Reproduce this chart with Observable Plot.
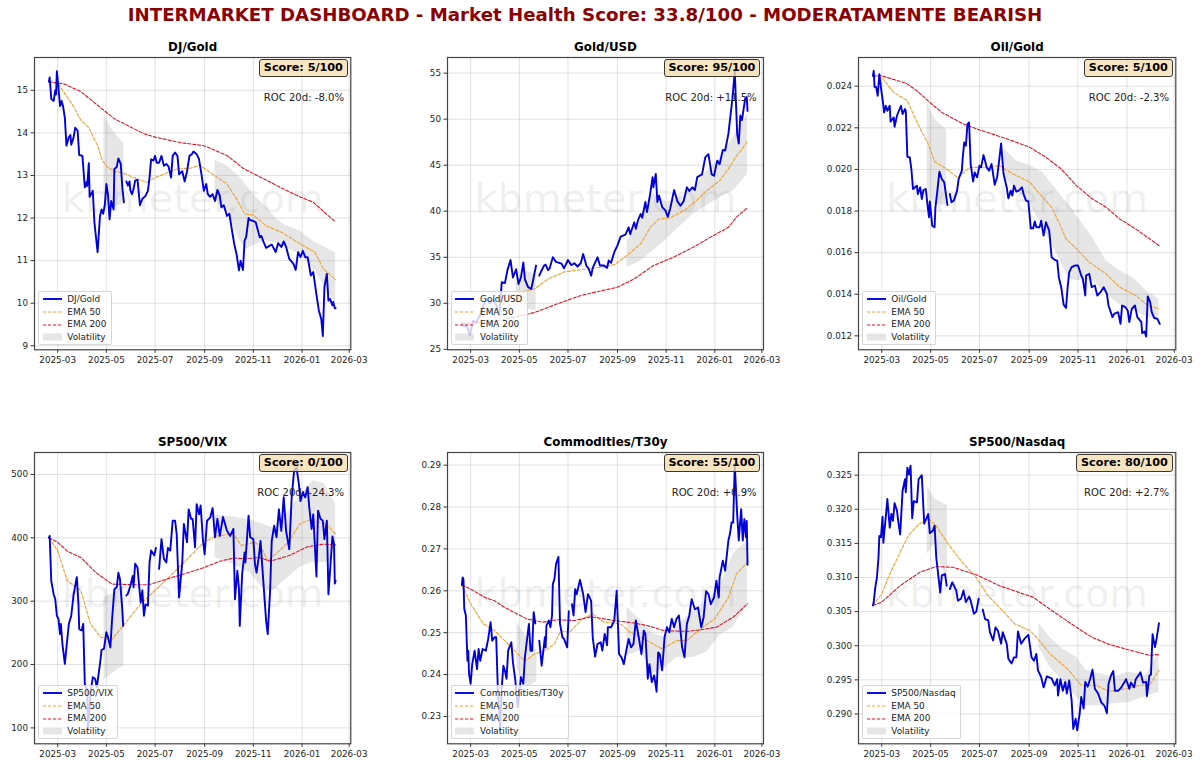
<!DOCTYPE html>
<html><head><meta charset="utf-8">
<script src="https://cdn.jsdelivr.net/npm/d3@7"></script>
<script src="https://cdn.jsdelivr.net/npm/@observablehq/plot@0.6"></script>
<style>
html,body{margin:0;background:#fff;font-family:"DejaVu Sans",sans-serif;}
#page{position:relative;width:1200px;height:768px;overflow:hidden;}
#sup{position:absolute;left:0;width:1170px;top:3px;height:24px;line-height:24px;text-align:center;font-weight:bold;font-size:18.2px;color:#8b0000;white-space:nowrap;}
.panel{position:absolute;}
.panel svg{overflow:visible;background:transparent;display:block;}
.score{position:absolute;box-sizing:border-box;height:18.4px;line-height:16.4px;padding:0 3.8px;border:1px solid #3d3529;border-radius:3px;background:rgba(245,222,179,.8);font-weight:bold;font-size:11.2px;color:#000;white-space:nowrap;}
.legend{position:absolute;box-sizing:border-box;height:54.3px;padding:1.4px 4.5px 0 3.6px;border:1px solid rgba(204,204,204,.8);border-radius:2px;background:rgba(255,255,255,.8);font-size:8.9px;color:#222;white-space:nowrap;}
.legend div{height:12.67px;line-height:12.67px;display:flex;align-items:center;}
.legend svg{margin-right:5.6px;flex:none;}
</style></head>
<body><div id="page"><div id="sup"></div></div>
<script>
const supTitle = "INTERMARKET DASHBOARD - Market Health Score: 33.8/100 - MODERATAMENTE BEARISH";
const watermark = "kbmeter.com";
const monthTicks = ["2025-03","2025-05","2025-07","2025-09","2025-11","2026-01","2026-03"];
const legendExtras = ["EMA 50","EMA 200","Volatility"];

// every series: [days after 2025-03-01, value]; NaN marks a gap in the line
const djGoldLine = [[-11,15.2],[-10,15.3],[-8,14.8],[-5,14.75],[-3,15.0],[-2,14.9],[-1,15.45],[1,15.05],[3,14.63],[5,14.75],[7,14.6],[9,14.35],[11,13.7],[14,13.9],[16,13.95],[17,13.72],[20,13.9],[22,14.12],[25,14.05],[27,13.48],[31,13.46],[34,12.72],[36,12.84],[37,12.75],[39,13.29],[40,12.5],[44,12.64],[46,11.9],[50,11.2],[53,12.05],[55,12.2],[57,12.1],[59,12.3],[61,12.8],[63,12.55],[65,11.97],[67,12.4],[70,12.2],[71,13.15],[74,13.2],[76,13.4],[79,13.27],[81,12.7],[83,12.37],[84,NaN],[86,12.86],[88,12.76],[90,12.86],[91,12.65],[93,12.56],[95,12.68],[97,12.88],[100,12.9],[103,12.3],[106,12.45],[110,12.52],[113,12.64],[115,12.95],[117,13.38],[120,13.35],[122,13.46],[124,13.3],[127,13.3],[130,13.46],[133,13.23],[136,13.27],[139,13.2],[142,12.95],[144,13.46],[147,13.54],[150,13.46],[152,13.03],[156,13.1],[159,12.86],[162,13.1],[165,13.46],[168,13.5],[170,13.56],[174,13.5],[177,13.38],[180,13.03],[183,12.64],[186,12.8],[188,12.56],[191,12.5],[194,12.56],[197,12.4],[200,12.66],[203,12.52],[205,12.25],[208,12.3],[212,12.05],[215,12.1],[218,11.74],[221,11.4],[224,11.15],[227,10.77],[229,11.0],[232,10.78],[234,11.47],[236,11.55],[239,12.0],[241,11.95],[245,11.93],[248,11.9],[253,11.55],[255,11.58],[258,11.43],[261,11.3],[268,11.38],[273,11.2],[276,11.41],[280,11.32],[283,11.45],[286,11.32],[290,11.04],[295,10.93],[298,10.78],[301,11.2],[304,11.08],[307,11.23],[310,11.08],[313,11.08],[317,10.65],[320,10.73],[324,10.2],[327,9.83],[330,9.63],[332,9.23],[334,10.38],[337,10.69],[339,10.06],[341,10.1],[344,9.95],[345,10.03],[347,9.88],[348,9.88]];
const djGoldEma50 = [[-11,15.2],[0,15.17],[8,14.95],[19,14.65],[29,14.3],[39,14.12],[50,13.7],[56,13.35],[62,13.2],[71,13.1],[83,13.05],[95,12.95],[112,12.84],[122,12.95],[133,13.03],[149,13.15],[166,13.17],[178,13.24],[191,13.07],[212,12.8],[224,12.45],[234,12.1],[245,12.07],[261,11.82],[282,11.65],[303,11.4],[322,11.2],[333,10.8],[348,10.55]];
const djGoldEma200 = [[-11,15.2],[0,15.17],[8,15.15],[29,14.97],[48,14.68],[71,14.33],[108,13.98],[122,13.9],[154,13.77],[183,13.7],[212,13.47],[232,13.17],[257,12.93],[286,12.65],[303,12.5],[320,12.37],[347,11.92]];
const djGoldBandA = [[58,12.6,14.45],[67,12.17,14.1],[75,12.3,13.92],[83,12.33,13.75]];
const djGoldBandB = [[197,12.45,13.36],[212,12.1,13.23],[228,11.47,12.95],[236,11.27,12.78],[245,11.35,12.56],[261,11.47,12.25],[274,11.4,11.98],[286,11.3,11.82],[303,11.15,11.7],[322,10.77,11.43],[334,10.4,11.32],[348,10.0,11.18]];

const goldUsdLine = [[-11,27.8],[-8,27.5],[-5,27.6],[-1,26.5],[3,28.1],[7,27.9],[12,28.8],[16,29.8],[20,30.5],[24,30],[28,30.4],[32,29.8],[36,28.7],[39,32.3],[43,32.2],[46,33.55],[50,34.7],[53,32.8],[57,33.7],[60,32.1],[63,32.8],[66,34.45],[68,32.6],[72,31.75],[76,31.55],[79,32.8],[82,34.1],[84,NaN],[86,33],[88,33.4],[92,34.1],[94,34.2],[97,33.6],[99,33.8],[103,35],[107,34.5],[111,34.4],[114,34.3],[117,33.8],[122,34.7],[126,34.15],[130,34.35],[134,34],[138,34.35],[141,35.35],[145,34.1],[148,33.75],[151,33],[153,33.85],[159,35],[162,34.1],[167,34.1],[171,33.85],[173,34.65],[176,34.4],[180,35.55],[184,36.3],[188,37.25],[194,37.45],[198,38.25],[200,37.5],[205,38.8],[207,38.1],[210,39.1],[213,39.7],[215,39.3],[219,41],[221,39.9],[225,41.9],[228,43.7],[229,42.6],[232,44.05],[234,41],[236,41.7],[240,40.45],[244,40.1],[247,39.4],[250,40.25],[255,42.3],[259,41.1],[263,40.6],[267,41.1],[271,42.6],[274,42.2],[278,42.6],[281,42.3],[284,43.7],[290,44],[294,45.85],[298,46.2],[302,44],[305,43.85],[309,45.5],[312,45.1],[316,46.65],[319,46.6],[323,48.4],[328,52.2],[331,55.2],[334,48.4],[336,47.35],[338,50.4],[340,49.9],[344,52.2],[346,52.4],[347,50.9]];
const goldUsdEma50 = [[-11,27.8],[1,27.8],[18,28.7],[39,29.8],[55,30.9],[61,31.2],[80,31.55],[97,32.65],[117,33.4],[138,33.65],[163,33.9],[180,34.2],[196,35.2],[213,36.45],[225,38.25],[236,39.15],[250,39.3],[267,40.05],[283,41.15],[296,42.25],[312,43.3],[323,44.6],[333,46],[339,46.6],[347,47.65]];
const goldUsdEma200 = [[-11,27.8],[30,28.0],[55,28.5],[80,29],[109,29.95],[138,30.85],[184,31.75],[205,32.65],[229,34.1],[254,35],[279,36.1],[304,37.35],[323,38.25],[333,39.35],[347,40.4]];
const goldUsdBandA = [[57,29.8,32.5],[66,29.5,33.5],[82,29.2,33.2]];
const goldUsdBandB = [[196,33.9,36.8],[213,34.6,39],[229,35.7,41.9],[246,37,41],[263,38.4,41.5],[279,39.7,42.4],[296,40.6,44.4],[312,41.5,45.6],[329,42.2,48],[340,43.3,49.5],[347,44,50.5]];

const oilGoldLine = [[-11,.0245],[-10,.02474],[-9,.02397],[-7,.02397],[-5,.02354],[-3,.02458],[-1,.02394],[1,.02338],[3,.02274],[5,.02306],[7,.02282],[10,.02306],[11,.0223],[15,.0225],[16,.02205],[19,.02258],[24,.02306],[26,.02266],[29,.0229],[30,.02282],[32,.02061],[35,.02058],[37,.02002],[39,.01906],[44,.01922],[45,.01882],[48,.01914],[50,.01858],[52,.01901],[55,.01906],[57,.01834],[59,.0177],[60,.01846],[63,.0173],[66,.01722],[67,.01818],[69,.01882],[72,.01989],[75,.01954],[78,.01938],[82,.01829],[84,NaN],[85,.01882],[87,.01842],[90,.0185],[94,.01898],[96,.01954],[100,.01994],[101,.02054],[103,.0213],[105,.02114],[107,.02218],[109,.02226],[111,.02026],[114,.01942],[116,.01986],[119,.01962],[122,.02018],[124,.0201],[127,.02069],[131,.0201],[134,.01994],[137,.02026],[139,.01978],[141,.01926],[144,.01962],[146,.02026],[149,.02125],[152,.01978],[156,.01914],[158,.01861],[161,.01898],[163,.01874],[165,.01922],[168,.01893],[171,.01898],[175,.01914],[177,.01882],[180,.0185],[183,.01846],[186,.01717],[189,.01717],[191,.0175],[193,.01722],[197,.01722],[199,.01754],[202,.01682],[205,.01746],[209,.01706],[212,.01578],[216,.01565],[219,.01562],[221,.01482],[224,.01434],[227,.0135],[230,.01334],[232,.01434],[234,.01506],[237,.0153],[241,.01538],[245,.01538],[249,.0149],[251,.01474],[254,.01394],[255,.0149],[259,.01498],[262,.01434],[266,.01442],[269,.01394],[273,.0141],[277,.01434],[281,.01402],[283,.01346],[288,.0129],[290,.01306],[295,.01314],[298,.01258],[300,.01346],[304,.01338],[307,.01322],[309,.01266],[312,.0133],[316,.01346],[319,.0129],[324,.01266],[325,.01213],[328,.01221],[330,.01197],[332,.0139],[335,.01362],[337,.01314],[340,.01286],[344,.01282],[347,.01258]];
const oilGoldEma50 = [[-11,.0245],[0,.02442],[15,.0237],[32,.0233],[44,.02226],[58,.02122],[66,.02038],[81,.02002],[95,.0196],[110,.0201],[129,.0201],[147,.02018],[164,.01978],[185,.01938],[197,.01882],[212,.01818],[222,.01738],[230,.01666],[243,.01618],[259,.01554],[280,.01498],[297,.01434],[317,.01394],[332,.01346],[346,.0133]];
const oilGoldEma200 = [[-11,.0245],[0,.0245],[31,.02413],[44,.02378],[60,.02322],[75,.02274],[102,.02218],[122,.0219],[154,.0215],[185,.02106],[205,.02058],[224,.02002],[243,.01922],[263,.01858],[280,.01818],[297,.01762],[317,.01714],[346,.01634]];
const oilGoldBandA = [[57,.0191,.02322],[66,.01834,.02242],[81,.01826,.02189]];
const oilGoldBandB = [[153,.0196,.02098],[168,.019,.02042],[185,.01834,.02018],[201,.01722,.01985],[222,.0157,.01882],[233,.01475,.0183],[243,.01466,.01778],[263,.01465,.01674],[280,.01402,.0156],[297,.0135,.01514],[315,.01322,.01474],[332,.0129,.0141],[346,.01274,.01378]];

const spVixLine = [[-11,400],[-10,403],[-8,332],[-5,311],[-3,303],[-1,277],[1,272],[3,248],[4,264],[6,232],[9,201],[11,227],[14,264],[17,277],[20,311],[24,338],[26,296],[27,256],[30,254],[32,264],[34,169],[37,159],[38,96],[41,154],[44,180],[47,177],[49,164],[53,201],[55,223],[58,225],[61,251],[63,243],[66,227],[68,269],[71,319],[74,322],[76,345],[78,335],[81,285],[82,261],[84,NaN],[86,309],[88,312],[91,324],[94,340],[95,322],[97,359],[100,353],[102,324],[104,298],[106,317],[108,277],[110,295],[113,293],[115,361],[117,380],[121,372],[123,384],[125,NaN],[127,351],[130,398],[133,367],[136,361],[138,384],[141,380],[144,427],[147,427],[149,406],[152,306],[156,361],[158,422],[162,393],[164,445],[167,430],[169,430],[172,385],[174,453],[177,437],[179,451],[182,395],[184,374],[187,427],[191,432],[194,447],[197,401],[200,430],[203,403],[207,433],[212,411],[216,403],[220,414],[222,303],[225,348],[227,319],[228,261],[231,343],[234,377],[235,361],[239,435],[241,401],[245,398],[247,359],[249,345],[252,372],[254,395],[257,340],[261,269],[263,248],[266,317],[268,395],[271,419],[274,401],[277,445],[280,411],[283,464],[286,411],[290,382],[293,464],[296,506],[299,511],[302,485],[304,458],[307,472],[310,464],[313,480],[315,448],[318,414],[320,437],[324,339],[326,443],[329,430],[332,427],[334,398],[337,427],[339,311],[344,402],[346,390],[347,328],[348,332]];
const spVixEma50 = [[-11,400],[0,380],[12,332],[29,317],[41,264],[54,243],[68,240],[87,269],[104,296],[122,317],[141,340],[162,366],[183,393],[199,403],[220,406],[230,388],[247,393],[255,385],[263,364],[278,380],[290,395],[303,422],[315,428],[336,422],[348,406]];
const spVixEma200 = [[-11,400],[0,393],[12,379],[29,369],[48,345],[68,327],[95,326],[114,326],[137,335],[158,343],[183,353],[203,363],[220,368],[237,367],[253,369],[266,363],[290,372],[313,386],[332,390],[348,389]];
const spVixBandA = [[58,175,306],[70,188,312],[83,198,324]];
const spVixBandB = [[197,369,436],[220,358,433],[241,345,428],[257,320,422],[270,317,415],[286,335,437],[303,353,466],[320,362,490],[334,361,485],[348,366,453]];

const commT30Line = [[-11,.2614],[-10,.2632],[-9,.2628],[-8,.2557],[-6,.2541],[-4,.2433],[-3,.2457],[-2,.2402],[0,.2378],[2,.2425],[5,.2457],[8,.2413],[10,.2461],[12,.2433],[15,.2461],[19,.2457],[22,.2485],[25,.2525],[27,.2481],[30,.2489],[32,.2489],[34,.237],[37,.2266],[39,.237],[41,.2421],[43,.2409],[45,.239],[47,.2457],[51,.2477],[53,.2429],[56,.2386],[59,.2322],[61,.2354],[63,.2394],[66,.2378],[68,.2441],[73,.2521],[75,.2457],[77,.2457],[79,.2549],[81,.2522],[83,NaN],[86,.2481],[89,.2421],[93,.2489],[94,.2465],[95,.2517],[98,.2529],[100,.2513],[102,.2541],[103,.2616],[105,.2628],[107,.2664],[110,.2681],[112,.2521],[115,.2489],[117,.2485],[121,.2465],[123,.2551],[125,NaN],[127,.2568],[129,.2541],[131,.2604],[133,.2592],[137,.2626],[141,.2592],[144,.2549],[147,.2592],[151,.2576],[153,.2489],[156,.2443],[159,.2473],[163,.2477],[165,.2457],[168,.2497],[171,.247],[172,.2513],[176,.2513],[180,.2529],[183,.26],[186,.2449],[189,.2441],[192,.2425],[195,.2457],[198,.2485],[201,.2465],[204,.2473],[207,.2529],[211,.2485],[214,.2449],[217,.2505],[219,.2497],[222,.239],[224,.2425],[227,.2382],[230,.2398],[233,.2359],[235,.2453],[237,.2449],[240,.241],[243,.2489],[246,.2513],[249,.2501],[252,.2533],[255,.2513],[258,.2533],[261,.2541],[263,.2505],[265,.2465],[268,.2441],[271,.2521],[274,.2541],[277,.258],[281,.2556],[285,.256],[289,.2513],[292,.2537],[295,.2599],[298,.2592],[301,.2568],[305,.2584],[308,.2624],[311,.2584],[312,.2632],[316,.2672],[319,.2648],[323,.272],[325,.2736],[327,.2763],[329,.2763],[331,.2902],[334,.2783],[336,.272],[339,.2795],[341,.272],[343,.2771],[345,.2728],[346,.2767],[347,.2662]];
const commT30Ema50 = [[-11,.2614],[0,.2569],[16,.2521],[30,.2505],[49,.2469],[68,.2432],[80,.2449],[93,.2457],[105,.2473],[113,.2505],[124,.2501],[140,.2533],[153,.2545],[167,.2525],[188,.2521],[200,.2501],[217,.2485],[240,.2461],[258,.2481],[271,.2481],[288,.2509],[306,.2533],[323,.2584],[333,.264],[347,.2668]];
const commT30Ema200 = [[-11,.2614],[0,.2604],[18,.2584],[30,.2576],[43,.256],[57,.2546],[70,.2533],[90,.2525],[109,.2531],[130,.2529],[151,.2538],[180,.2529],[205,.2523],[221,.2517],[242,.2505],[271,.2503],[288,.2507],[308,.2513],[329,.2537],[347,.2569]];
const commT30BandA = [[58,.2415,.2525],[70,.237,.2489],[83,.2382,.2457]];
const commT30BandB = [[196,.2445,.2561],[213,.2457,.2529],[229,.2402,.2497],[244,.2417,.2489],[258,.2441,.2513],[279,.2441,.2553],[296,.2453,.2576],[312,.2493,.2608],[329,.2513,.2688],[347,.2569,.272]];

const spNasLine = [[-11,.3059],[-10,.3064],[-8,.3086],[-6,.31],[-4,.313],[-3,.3161],[-1,.3159],[1,.3189],[2,.3151],[5,.3188],[7,.3215],[10,.3173],[12,.3193],[14,.3183],[16,.3209],[19,.3198],[21,.3179],[23,.3163],[26,.3227],[29,.3244],[30,.3225],[32,.3261],[34,.3251],[36,.3264],[38,.3187],[40,.3212],[44,.321],[46,.3244],[50,.325],[53,.3179],[58,.3193],[60,.3165],[64,.3169],[66,.3176],[68,.313],[73,.3078],[75,.3103],[79,.3105],[81,.3088],[84,NaN],[85,.3083],[88,.3093],[93,.3081],[95,.3066],[99,.3069],[102,.3081],[105,.3064],[109,.3072],[111,.3066],[115,.3047],[118,.305],[121,.3069],[123,NaN],[126,.3053],[129,.3039],[133,.3037],[135,.302],[139,.3008],[142,.3027],[145,.3022],[149,.3003],[151,.302],[156,.3003],[158,.2981],[162,.2974],[165,.2983],[168,.2983],[170,.3021],[174,.3003],[178,.301],[183,.3016],[187,.2983],[190,.2978],[193,.2988],[195,.2964],[199,.2954],[202,.2939],[206,.2955],[212,.2952],[216,.2942],[219,.2951],[220,.2927],[223,.2951],[226,.2934],[229,.2947],[231,.293],[234,.2949],[237,.292],[239,.2878],[242,.2893],[244,.2876],[247,.29],[249,.2925],[252,.2908],[254,.2947],[257,.294],[260,.2951],[263,.2965],[266,.2937],[270,.293],[274,.2917],[278,.2912],[281,.2901],[283,.2944],[286,.2956],[289,.2963],[291,.2934],[295,.2934],[299,.2939],[305,.2951],[309,.2937],[311,.2946],[315,.2939],[317,.2951],[323,.2961],[326,.2946],[330,.2947],[331,.2926],[334,.2956],[336,.2958],[338,.3017],[341,.2998],[343,.301],[346,.3033]];
const spNasEma50 = [[-11,.3059],[0,.3076],[10,.3105],[23,.3137],[33,.3161],[46,.3178],[58,.3186],[68,.3176],[83,.3149],[102,.312],[118,.31],[131,.3076],[151,.3051],[166,.3032],[185,.3022],[195,.301],[210,.2988],[232,.2966],[249,.2942],[268,.2942],[284,.2933],[305,.2937],[322,.2942],[334,.2942],[346,.2964]];
const spNasEma200 = [[-11,.3059],[0,.3064],[23,.3088],[48,.3108],[68,.3116],[89,.3115],[118,.3104],[147,.3088],[189,.3071],[213,.3051],[243,.3027],[263,.3012],[284,.3002],[305,.2995],[334,.2986],[346,.2987]];
const spNasBandA = [[57,.3134,.3234],[66,.3149,.3215],[82,.3088,.3205]];
const spNasBandB = [[196,.2998,.3033],[210,.2969,.3012],[226,.2949,.2995],[243,.2925,.2983],[255,.2912,.2964],[272,.2912,.2959],[288,.2915,.2954],[309,.2917,.2961],[330,.2926,.2956],[346,.2932,.2993]];

const titles = ["DJ/Gold","Gold/USD","Oil/Gold","SP500/VIX","Commodities/T30y","SP500/Nasdaq"];
const scores = [5,95,5,0,55,80];
const rocs = ["-8.0%","+11.5%","-2.3%","-24.3%","+0.9%","+2.7%"];
const yDomains = [[8.906,15.77],[24.95,56.7],[.01133,.02538],[74.9,534.7],[.22347,.29302],[.28563,.32832]];
const yTickValues = [[9,10,11,12,13,14,15],[25,30,35,40,45,50,55],[.012,.014,.016,.018,.020,.022,.024],[100,200,300,400,500],[.23,.24,.25,.26,.27,.28,.29],[.290,.295,.300,.305,.310,.315,.320,.325]];
const yTickDigits = [0,0,3,0,2,3];
const lines = [djGoldLine,goldUsdLine,oilGoldLine,spVixLine,commT30Line,spNasLine];
const ema50s = [djGoldEma50,goldUsdEma50,oilGoldEma50,spVixEma50,commT30Ema50,spNasEma50];
const ema200s = [djGoldEma200,goldUsdEma200,oilGoldEma200,spVixEma200,commT30Ema200,spNasEma200];
const bandsA = [djGoldBandA,goldUsdBandA,oilGoldBandA,spVixBandA,commT30BandA,spNasBandA];
const bandsB = [djGoldBandB,goldUsdBandB,oilGoldBandB,spVixBandB,commT30BandB,spNasBandB];

const BLUE = "#0000d8", ORANGE = "#f0a030", RED = "#dc1428", BANDC = "gray", INK = "#222";
const DASH = "3.2,1.8";
const axesLeft = [33.7,446.5,857.7,33.7,446.5,857.7];
const axesTop = [56.7,56.7,56.7,451.7,451.7,451.7];
const axesW = [316.3,316,317.3,316.3,316,317.3];
const axesH = [292.3,292.3,292.3,291.3,291.3,291.3];
const mL=46,mR=14,mT=22,mB=24;

const day = d => new Date(Date.UTC(2025,2,1+d));
const X = d => day(d[0]);
const parseMonth = s => new Date(s+"-01T00:00:00Z");
document.getElementById("sup").textContent = supTitle;
const page = document.getElementById("page");

titles.forEach((title,i)=>{
  const plot = Plot.plot({
    width: axesW[i]+mL+mR, height: axesH[i]+mT+mB,
    marginLeft:mL, marginRight:mR, marginTop:mT, marginBottom:mB,
    style:{fontFamily:"DejaVu Sans",fontSize:"8.8px",color:INK,background:"transparent",overflow:"visible"},
    x:{type:"utc",domain:[new Date("2025-01-31"),new Date("2026-03-03")]},
    y:{domain:yDomains[i]},
    marks:[
      Plot.gridX(monthTicks.map(parseMonth),{stroke:"#b0b0b0",strokeOpacity:.38,strokeWidth:1}),
      Plot.gridY(yTickValues[i],{stroke:"#b0b0b0",strokeOpacity:.38,strokeWidth:1}),
      Plot.text([watermark],{frameAnchor:"middle",dy:-4,fontSize:39.8,fill:"gray",fillOpacity:.13}),
      Plot.areaY(bandsA[i],{x:X,y1:d=>d[1],y2:d=>d[2],fill:BANDC,fillOpacity:.2,curve:"linear"}),
      Plot.areaY(bandsB[i],{x:X,y1:d=>d[1],y2:d=>d[2],fill:BANDC,fillOpacity:.2,curve:"linear"}),
      Plot.lineY(ema50s[i],{x:X,y:d=>d[1],stroke:ORANGE,strokeWidth:1.1,strokeDasharray:DASH}),
      Plot.lineY(ema200s[i],{x:X,y:d=>d[1],stroke:RED,strokeWidth:1.1,strokeDasharray:DASH}),
      Plot.lineY(lines[i],{x:X,y:d=>d[1],stroke:BLUE,strokeWidth:1.9,strokeLinejoin:"round"}),
      Plot.axisX({ticks:monthTicks.map(parseMonth),tickFormat:d3.utcFormat("%Y-%m"),tickSize:3.5,tickPadding:3,stroke:"#333",fill:INK,fontSize:8.8,label:null}),
      Plot.axisY({ticks:yTickValues[i],tickFormat:d=>d.toFixed(yTickDigits[i]),tickSize:3.5,tickPadding:3,stroke:"#333",fill:INK,fontSize:8.8,label:null}),
      Plot.frame({stroke:"#444",strokeWidth:1.2}),
      Plot.text([title],{frameAnchor:"top",dy:-10.7,lineAnchor:"middle",fontWeight:"bold",fontSize:11.9,fill:"#000"}),
      Plot.text(["ROC 20d: "+rocs[i]],{frameAnchor:"top-right",dx:-6.8,dy:40,textAnchor:"end",lineAnchor:"middle",fontSize:10.1,fill:INK})
    ]
  });
  const wrap = document.createElement("div");
  wrap.className="panel";
  wrap.style.left=(axesLeft[i]-mL)+"px";
  wrap.style.top=(axesTop[i]-mT)+"px";
  wrap.appendChild(plot);
  page.appendChild(wrap);

  const score=document.createElement("div");
  score.className="score";
  score.textContent="Score: "+scores[i]+"/100";
  score.style.right=(1200-(axesLeft[i]+axesW[i]-2.3))+"px";
  score.style.top=(axesTop[i]+2.3)+"px";
  page.appendChild(score);

  const leg=document.createElement("div");
  leg.className="legend";
  leg.style.left=(axesLeft[i]+4.4)+"px";
  leg.style.top=(axesTop[i]+axesH[i]-4-54.3)+"px";
  const sw=[
    `<svg width="19" height="8"><line x1="0" x2="19" y1="4" y2="4" stroke="${BLUE}" stroke-width="1.9"/></svg>`,
    `<svg width="19" height="8"><line x1="0" x2="19" y1="4" y2="4" stroke="${ORANGE}" stroke-width="1.1" stroke-dasharray="${DASH}"/></svg>`,
    `<svg width="19" height="8"><line x1="0" x2="19" y1="4" y2="4" stroke="${RED}" stroke-width="1.1" stroke-dasharray="${DASH}"/></svg>`,
    `<svg width="19" height="8"><rect x="0" y="0.5" width="19" height="7" fill="gray" fill-opacity=".2"/></svg>`
  ];
  leg.innerHTML=[title,...legendExtras].map((t,k)=>`<div>${sw[k]}<span>${t}</span></div>`).join("");
  page.appendChild(leg);
});
</script></body></html>
